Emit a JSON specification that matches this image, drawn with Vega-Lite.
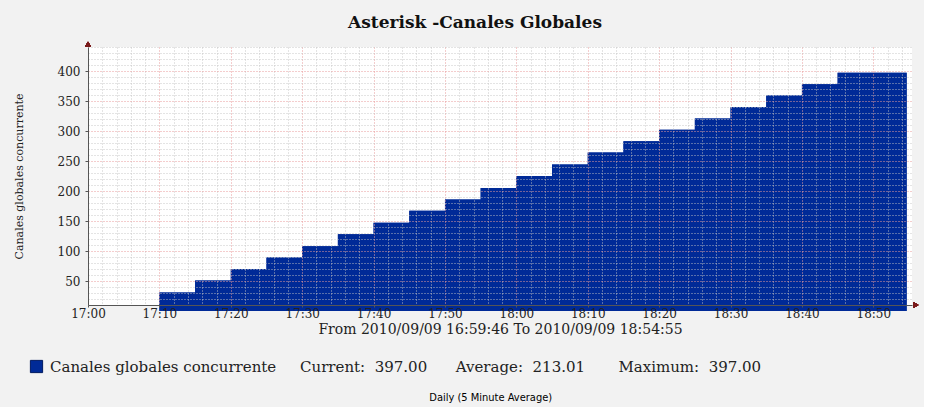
{
  "$schema": "https://vega.github.io/schema/vega-lite/v6.json",
  "background": "#f2f2f2",
  "padding": {"left": 13, "top": 13, "right": 5, "bottom": 4},
  "title": {"text": "Daily (5 Minute Average)", "orient": "bottom", "anchor": "middle", "font": "DejaVu Sans Condensed, Liberation Sans Narrow, Roboto Condensed, DejaVu Sans, sans-serif", "fontSize": 11, "fontWeight": "normal", "color": "#000000", "offset": 17, "dx": 25},
  "config": {"font": "DejaVu Serif", "view": {"stroke": null}},
  "vconcat": [
    {
      "width": 824,
      "height": 258,
      "view": {"fill": "#ffffff", "stroke": null},
      "title": {"text": "Asterisk -Canales Globales", "font": "DejaVu Serif", "fontSize": 17, "fontWeight": "bold", "color": "#111111", "anchor": "middle", "offset": 10, "dx": -25},
      "data": {"values": [
        {"t": "2010-09-09T17:10:00", "v": 31, "serie": "Canales globales concurrente\u00a0\u00a0\u00a0\u00a0\u00a0Current:\u00a0\u00a0397.00\u00a0\u00a0\u00a0\u00a0\u00a0\u00a0Average:\u00a0\u00a0213.01\u00a0\u00a0\u00a0\u00a0\u00a0\u00a0\u00a0Maximum:\u00a0\u00a0397.00"},
        {"t": "2010-09-09T17:15:00", "v": 51, "serie": "Canales globales concurrente\u00a0\u00a0\u00a0\u00a0\u00a0Current:\u00a0\u00a0397.00\u00a0\u00a0\u00a0\u00a0\u00a0\u00a0Average:\u00a0\u00a0213.01\u00a0\u00a0\u00a0\u00a0\u00a0\u00a0\u00a0Maximum:\u00a0\u00a0397.00"},
        {"t": "2010-09-09T17:20:00", "v": 70, "serie": "Canales globales concurrente\u00a0\u00a0\u00a0\u00a0\u00a0Current:\u00a0\u00a0397.00\u00a0\u00a0\u00a0\u00a0\u00a0\u00a0Average:\u00a0\u00a0213.01\u00a0\u00a0\u00a0\u00a0\u00a0\u00a0\u00a0Maximum:\u00a0\u00a0397.00"},
        {"t": "2010-09-09T17:25:00", "v": 89, "serie": "Canales globales concurrente\u00a0\u00a0\u00a0\u00a0\u00a0Current:\u00a0\u00a0397.00\u00a0\u00a0\u00a0\u00a0\u00a0\u00a0Average:\u00a0\u00a0213.01\u00a0\u00a0\u00a0\u00a0\u00a0\u00a0\u00a0Maximum:\u00a0\u00a0397.00"},
        {"t": "2010-09-09T17:30:00", "v": 108, "serie": "Canales globales concurrente\u00a0\u00a0\u00a0\u00a0\u00a0Current:\u00a0\u00a0397.00\u00a0\u00a0\u00a0\u00a0\u00a0\u00a0Average:\u00a0\u00a0213.01\u00a0\u00a0\u00a0\u00a0\u00a0\u00a0\u00a0Maximum:\u00a0\u00a0397.00"},
        {"t": "2010-09-09T17:35:00", "v": 128, "serie": "Canales globales concurrente\u00a0\u00a0\u00a0\u00a0\u00a0Current:\u00a0\u00a0397.00\u00a0\u00a0\u00a0\u00a0\u00a0\u00a0Average:\u00a0\u00a0213.01\u00a0\u00a0\u00a0\u00a0\u00a0\u00a0\u00a0Maximum:\u00a0\u00a0397.00"},
        {"t": "2010-09-09T17:40:00", "v": 147, "serie": "Canales globales concurrente\u00a0\u00a0\u00a0\u00a0\u00a0Current:\u00a0\u00a0397.00\u00a0\u00a0\u00a0\u00a0\u00a0\u00a0Average:\u00a0\u00a0213.01\u00a0\u00a0\u00a0\u00a0\u00a0\u00a0\u00a0Maximum:\u00a0\u00a0397.00"},
        {"t": "2010-09-09T17:45:00", "v": 167, "serie": "Canales globales concurrente\u00a0\u00a0\u00a0\u00a0\u00a0Current:\u00a0\u00a0397.00\u00a0\u00a0\u00a0\u00a0\u00a0\u00a0Average:\u00a0\u00a0213.01\u00a0\u00a0\u00a0\u00a0\u00a0\u00a0\u00a0Maximum:\u00a0\u00a0397.00"},
        {"t": "2010-09-09T17:50:00", "v": 186, "serie": "Canales globales concurrente\u00a0\u00a0\u00a0\u00a0\u00a0Current:\u00a0\u00a0397.00\u00a0\u00a0\u00a0\u00a0\u00a0\u00a0Average:\u00a0\u00a0213.01\u00a0\u00a0\u00a0\u00a0\u00a0\u00a0\u00a0Maximum:\u00a0\u00a0397.00"},
        {"t": "2010-09-09T17:55:00", "v": 205, "serie": "Canales globales concurrente\u00a0\u00a0\u00a0\u00a0\u00a0Current:\u00a0\u00a0397.00\u00a0\u00a0\u00a0\u00a0\u00a0\u00a0Average:\u00a0\u00a0213.01\u00a0\u00a0\u00a0\u00a0\u00a0\u00a0\u00a0Maximum:\u00a0\u00a0397.00"},
        {"t": "2010-09-09T18:00:00", "v": 225, "serie": "Canales globales concurrente\u00a0\u00a0\u00a0\u00a0\u00a0Current:\u00a0\u00a0397.00\u00a0\u00a0\u00a0\u00a0\u00a0\u00a0Average:\u00a0\u00a0213.01\u00a0\u00a0\u00a0\u00a0\u00a0\u00a0\u00a0Maximum:\u00a0\u00a0397.00"},
        {"t": "2010-09-09T18:05:00", "v": 244, "serie": "Canales globales concurrente\u00a0\u00a0\u00a0\u00a0\u00a0Current:\u00a0\u00a0397.00\u00a0\u00a0\u00a0\u00a0\u00a0\u00a0Average:\u00a0\u00a0213.01\u00a0\u00a0\u00a0\u00a0\u00a0\u00a0\u00a0Maximum:\u00a0\u00a0397.00"},
        {"t": "2010-09-09T18:10:00", "v": 264, "serie": "Canales globales concurrente\u00a0\u00a0\u00a0\u00a0\u00a0Current:\u00a0\u00a0397.00\u00a0\u00a0\u00a0\u00a0\u00a0\u00a0Average:\u00a0\u00a0213.01\u00a0\u00a0\u00a0\u00a0\u00a0\u00a0\u00a0Maximum:\u00a0\u00a0397.00"},
        {"t": "2010-09-09T18:15:00", "v": 283, "serie": "Canales globales concurrente\u00a0\u00a0\u00a0\u00a0\u00a0Current:\u00a0\u00a0397.00\u00a0\u00a0\u00a0\u00a0\u00a0\u00a0Average:\u00a0\u00a0213.01\u00a0\u00a0\u00a0\u00a0\u00a0\u00a0\u00a0Maximum:\u00a0\u00a0397.00"},
        {"t": "2010-09-09T18:20:00", "v": 302, "serie": "Canales globales concurrente\u00a0\u00a0\u00a0\u00a0\u00a0Current:\u00a0\u00a0397.00\u00a0\u00a0\u00a0\u00a0\u00a0\u00a0Average:\u00a0\u00a0213.01\u00a0\u00a0\u00a0\u00a0\u00a0\u00a0\u00a0Maximum:\u00a0\u00a0397.00"},
        {"t": "2010-09-09T18:25:00", "v": 321, "serie": "Canales globales concurrente\u00a0\u00a0\u00a0\u00a0\u00a0Current:\u00a0\u00a0397.00\u00a0\u00a0\u00a0\u00a0\u00a0\u00a0Average:\u00a0\u00a0213.01\u00a0\u00a0\u00a0\u00a0\u00a0\u00a0\u00a0Maximum:\u00a0\u00a0397.00"},
        {"t": "2010-09-09T18:30:00", "v": 340, "serie": "Canales globales concurrente\u00a0\u00a0\u00a0\u00a0\u00a0Current:\u00a0\u00a0397.00\u00a0\u00a0\u00a0\u00a0\u00a0\u00a0Average:\u00a0\u00a0213.01\u00a0\u00a0\u00a0\u00a0\u00a0\u00a0\u00a0Maximum:\u00a0\u00a0397.00"},
        {"t": "2010-09-09T18:35:00", "v": 359, "serie": "Canales globales concurrente\u00a0\u00a0\u00a0\u00a0\u00a0Current:\u00a0\u00a0397.00\u00a0\u00a0\u00a0\u00a0\u00a0\u00a0Average:\u00a0\u00a0213.01\u00a0\u00a0\u00a0\u00a0\u00a0\u00a0\u00a0Maximum:\u00a0\u00a0397.00"},
        {"t": "2010-09-09T18:40:00", "v": 378, "serie": "Canales globales concurrente\u00a0\u00a0\u00a0\u00a0\u00a0Current:\u00a0\u00a0397.00\u00a0\u00a0\u00a0\u00a0\u00a0\u00a0Average:\u00a0\u00a0213.01\u00a0\u00a0\u00a0\u00a0\u00a0\u00a0\u00a0Maximum:\u00a0\u00a0397.00"},
        {"t": "2010-09-09T18:45:00", "v": 397, "serie": "Canales globales concurrente\u00a0\u00a0\u00a0\u00a0\u00a0Current:\u00a0\u00a0397.00\u00a0\u00a0\u00a0\u00a0\u00a0\u00a0Average:\u00a0\u00a0213.01\u00a0\u00a0\u00a0\u00a0\u00a0\u00a0\u00a0Maximum:\u00a0\u00a0397.00"},
        {"t": "2010-09-09T18:54:40", "v": 397, "serie": "Canales globales concurrente\u00a0\u00a0\u00a0\u00a0\u00a0Current:\u00a0\u00a0397.00\u00a0\u00a0\u00a0\u00a0\u00a0\u00a0Average:\u00a0\u00a0213.01\u00a0\u00a0\u00a0\u00a0\u00a0\u00a0\u00a0Maximum:\u00a0\u00a0397.00"}
      ]},
      "layer": [
        {
          "mark": {"type": "area", "interpolate": "step-after", "opacity": 1},
          "encoding": {
            "x": {"field": "t", "type": "temporal",
              "scale": {"domain": [{"year": 2010, "month": 9, "date": 9, "hours": 17, "minutes": 0}, {"year": 2010, "month": 9, "date": 9, "hours": 18, "minutes": 55, "seconds": 25}], "nice": false},
              "axis": {"orient": "bottom", "title": null, "labels": false, "ticks": false, "domain": false, "grid": true, "gridColor": "#c4c4c4", "gridDash": [1, 2], "gridWidth": 1, "gridOpacity": 0.9, "zindex": 1,
                "values": [
                  {"year": 2010, "month": 9, "date": 9, "hours": 17, "minutes": 2}, {"year": 2010, "month": 9, "date": 9, "hours": 17, "minutes": 4}, {"year": 2010, "month": 9, "date": 9, "hours": 17, "minutes": 6}, {"year": 2010, "month": 9, "date": 9, "hours": 17, "minutes": 8},
                  {"year": 2010, "month": 9, "date": 9, "hours": 17, "minutes": 12}, {"year": 2010, "month": 9, "date": 9, "hours": 17, "minutes": 14}, {"year": 2010, "month": 9, "date": 9, "hours": 17, "minutes": 16}, {"year": 2010, "month": 9, "date": 9, "hours": 17, "minutes": 18},
                  {"year": 2010, "month": 9, "date": 9, "hours": 17, "minutes": 22}, {"year": 2010, "month": 9, "date": 9, "hours": 17, "minutes": 24}, {"year": 2010, "month": 9, "date": 9, "hours": 17, "minutes": 26}, {"year": 2010, "month": 9, "date": 9, "hours": 17, "minutes": 28},
                  {"year": 2010, "month": 9, "date": 9, "hours": 17, "minutes": 32}, {"year": 2010, "month": 9, "date": 9, "hours": 17, "minutes": 34}, {"year": 2010, "month": 9, "date": 9, "hours": 17, "minutes": 36}, {"year": 2010, "month": 9, "date": 9, "hours": 17, "minutes": 38},
                  {"year": 2010, "month": 9, "date": 9, "hours": 17, "minutes": 42}, {"year": 2010, "month": 9, "date": 9, "hours": 17, "minutes": 44}, {"year": 2010, "month": 9, "date": 9, "hours": 17, "minutes": 46}, {"year": 2010, "month": 9, "date": 9, "hours": 17, "minutes": 48},
                  {"year": 2010, "month": 9, "date": 9, "hours": 17, "minutes": 52}, {"year": 2010, "month": 9, "date": 9, "hours": 17, "minutes": 54}, {"year": 2010, "month": 9, "date": 9, "hours": 17, "minutes": 56}, {"year": 2010, "month": 9, "date": 9, "hours": 17, "minutes": 58},
                  {"year": 2010, "month": 9, "date": 9, "hours": 18, "minutes": 2}, {"year": 2010, "month": 9, "date": 9, "hours": 18, "minutes": 4}, {"year": 2010, "month": 9, "date": 9, "hours": 18, "minutes": 6}, {"year": 2010, "month": 9, "date": 9, "hours": 18, "minutes": 8},
                  {"year": 2010, "month": 9, "date": 9, "hours": 18, "minutes": 12}, {"year": 2010, "month": 9, "date": 9, "hours": 18, "minutes": 14}, {"year": 2010, "month": 9, "date": 9, "hours": 18, "minutes": 16}, {"year": 2010, "month": 9, "date": 9, "hours": 18, "minutes": 18},
                  {"year": 2010, "month": 9, "date": 9, "hours": 18, "minutes": 22}, {"year": 2010, "month": 9, "date": 9, "hours": 18, "minutes": 24}, {"year": 2010, "month": 9, "date": 9, "hours": 18, "minutes": 26}, {"year": 2010, "month": 9, "date": 9, "hours": 18, "minutes": 28},
                  {"year": 2010, "month": 9, "date": 9, "hours": 18, "minutes": 32}, {"year": 2010, "month": 9, "date": 9, "hours": 18, "minutes": 34}, {"year": 2010, "month": 9, "date": 9, "hours": 18, "minutes": 36}, {"year": 2010, "month": 9, "date": 9, "hours": 18, "minutes": 38},
                  {"year": 2010, "month": 9, "date": 9, "hours": 18, "minutes": 42}, {"year": 2010, "month": 9, "date": 9, "hours": 18, "minutes": 44}, {"year": 2010, "month": 9, "date": 9, "hours": 18, "minutes": 46}, {"year": 2010, "month": 9, "date": 9, "hours": 18, "minutes": 48},
                  {"year": 2010, "month": 9, "date": 9, "hours": 18, "minutes": 52}, {"year": 2010, "month": 9, "date": 9, "hours": 18, "minutes": 54}
                ]}},
            "y": {"field": "v", "type": "quantitative",
              "scale": {"domain": [10, 440], "nice": false, "zero": false},
              "axis": {"orient": "left", "title": null, "labels": false, "ticks": false, "domain": false, "grid": true, "gridColor": "#c4c4c4", "gridDash": [1, 2], "gridWidth": 1, "gridOpacity": 0.9, "zindex": 1,
                "values": [20, 30, 40, 60, 70, 80, 90, 110, 120, 130, 140, 160, 170, 180, 190, 210, 220, 230, 240, 260, 270, 280, 290, 310, 320, 330, 340, 360, 370, 380, 390, 410, 420, 430, 440]}},
            "fill": {"field": "serie", "type": "nominal",
              "scale": {"range": ["#002A97"]},
              "legend": {"title": null, "orient": "none", "legendX": -59, "legendY": 312, "symbolType": "square", "symbolSize": 150, "symbolStrokeColor": "#001a60", "symbolStrokeWidth": 1, "symbolOpacity": 1,
                "labelFont": "DejaVu Serif", "labelFontSize": 15, "labelColor": "#222222", "labelLimit": 900, "labelOffset": 6}}
          }
        },
        {
          "mark": {"type": "area", "interpolate": "step-after", "opacity": 1, "color": "#002A97"},
          "encoding": {
            "x": {"field": "t", "type": "temporal",
              "axis": {"orient": "bottom", "title": "From 2010/09/09 16:59:46 To 2010/09/09 18:54:55", "titleFont": "DejaVu Serif", "titleFontSize": 14, "titleFontWeight": "normal", "titleColor": "#222222", "titlePadding": 3,
                "format": "%H:%M", "labelFont": "DejaVu Serif", "labelFontSize": 12, "labelColor": "#222222", "labelFlush": false, "labelOverlap": false, "labelPadding": 1,
                "values": [
                  {"year": 2010, "month": 9, "date": 9, "hours": 17, "minutes": 0}, {"year": 2010, "month": 9, "date": 9, "hours": 17, "minutes": 10}, {"year": 2010, "month": 9, "date": 9, "hours": 17, "minutes": 20},
                  {"year": 2010, "month": 9, "date": 9, "hours": 17, "minutes": 30}, {"year": 2010, "month": 9, "date": 9, "hours": 17, "minutes": 40}, {"year": 2010, "month": 9, "date": 9, "hours": 17, "minutes": 50},
                  {"year": 2010, "month": 9, "date": 9, "hours": 18, "minutes": 0}, {"year": 2010, "month": 9, "date": 9, "hours": 18, "minutes": 10}, {"year": 2010, "month": 9, "date": 9, "hours": 18, "minutes": 20},
                  {"year": 2010, "month": 9, "date": 9, "hours": 18, "minutes": 30}, {"year": 2010, "month": 9, "date": 9, "hours": 18, "minutes": 40}, {"year": 2010, "month": 9, "date": 9, "hours": 18, "minutes": 50}
                ],
                "ticks": true, "tickSize": 2, "tickColor": "#555555",
                "domain": true, "domainColor": "#555555", "domainWidth": 1,
                "grid": true, "gridColor": "#e89a9a", "gridDash": [1, 2], "gridWidth": 1, "gridOpacity": 1, "zindex": 1}},
            "y": {"field": "v", "type": "quantitative",
              "axis": {"orient": "left", "title": "Canales globales concurrente", "titleFont": "DejaVu Serif", "titleFontSize": 11, "titleFontWeight": "normal", "titleColor": "#222222", "titlePadding": 33,
                "labelFont": "DejaVu Serif", "labelFontSize": 12, "labelColor": "#222222", "labelPadding": 5,
                "values": [50, 100, 150, 200, 250, 300, 350, 400], "ticks": true, "tickSize": 3, "tickColor": "#555555",
                "domain": true, "domainColor": "#555555", "domainWidth": 1,
                "grid": true, "gridColor": "#e89a9a", "gridDash": [1, 2], "gridWidth": 1, "gridOpacity": 1, "zindex": 1}}
          }
        },
        {
          "mark": {"type": "point", "shape": "triangle-up", "filled": true, "size": 30, "color": "#7a1a1a", "opacity": 1, "yOffset": -3},
          "encoding": {
            "x": {"datum": {"year": 2010, "month": 9, "date": 9, "hours": 17, "minutes": 0}, "type": "temporal", "axis": null},
            "y": {"datum": 440, "type": "quantitative", "axis": null}
          }
        },
        {
          "mark": {"type": "point", "shape": "triangle-right", "filled": true, "size": 30, "color": "#7a1a1a", "opacity": 1, "xOffset": 4},
          "encoding": {
            "x": {"datum": {"year": 2010, "month": 9, "date": 9, "hours": 18, "minutes": 55, "seconds": 25}, "type": "temporal", "axis": null},
            "y": {"datum": 10, "type": "quantitative", "axis": null}
          }
        }
      ],
      "resolve": {"axis": {"x": "independent", "y": "independent"}}
    }
  ]
}
